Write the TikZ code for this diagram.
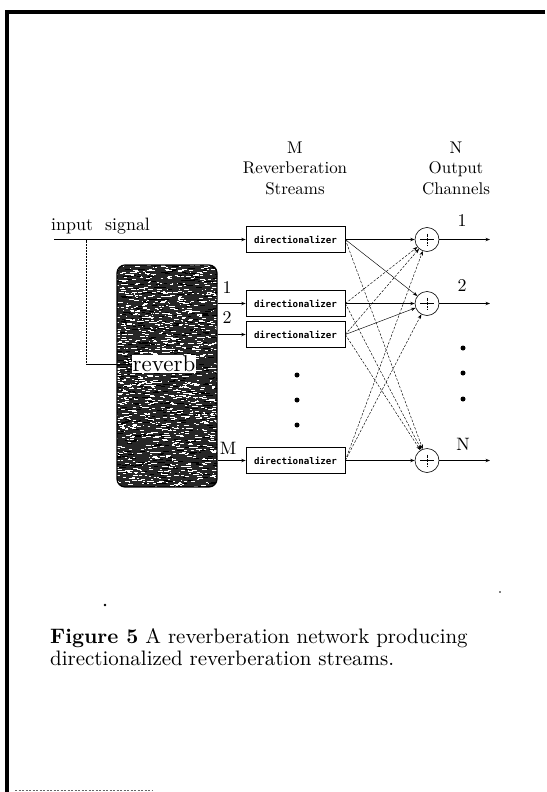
\documentclass[tikz,border=0pt]{standalone}
\usepackage{fontspec}
\setmainfont{lmroman10-regular.otf}[BoldFont=lmroman10-bold.otf]
\newfontfamily\dirfont{DejaVu Sans Mono}
\usetikzlibrary{arrows.meta}
\begin{document}
\begin{tikzpicture}[x=1bp,y=-1bp,
  >={Stealth[length=4.5bp,width=3.4bp]},
  dirbox/.style={draw, line width=0.6bp, minimum width=99bp, minimum height=26bp,
    inner sep=0pt, font={\dirfont\bfseries\fontsize{9.2}{9}\selectfont}},
  sumnode/.style={draw, circle, minimum size=24bp, inner sep=0pt, line width=0.6bp,
    path picture={\draw[line width=0.6bp]
      ([xshift=5bp]path picture bounding box.west) -- ([xshift=-5bp]path picture bounding box.east);
      \draw[line width=0.4bp, densely dotted]
      ([yshift=-6bp]path picture bounding box.north) -- ([yshift=6bp]path picture bounding box.south);}},
  hdr/.style={font={\fontsize{17}{20.5}\selectfont}, align=center, inner sep=0pt},
  lbl/.style={font={\fontsize{18}{21}\selectfont}, inner sep=0pt},
  sig/.style={->, line width=0.8bp},
  xsolid/.style={->, line width=0.45bp},
  xdash/.style={->, line width=0.45bp, dash pattern=on 2.5bp off 1.5bp},
  dotmark/.style={circle, fill, inner sep=0pt, minimum size=5bp}
]
\useasboundingbox (0,0) rectangle (547,792);

% page frame
\draw[line width=3.5bp] (545,12) -- (7,12) -- (7,792);
\draw[black!60, line width=1bp, dash pattern=on 2bp off 1.5bp] (15,790) -- (152,790);

% column headings
\node[hdr] (hdrM) at (295,168) {M\\Reverberation\\Streams};
\node[hdr] (hdrN) at (456,168) {N\\Output\\Channels};

% reverb block with a grainy fill
\begin{scope}
  \clip[rounded corners=8bp] (117,265) rectangle (217,487);
  \fill[black!85] (117,265) rectangle (217,487);
  \pgfmathsetseed{11}
  \foreach \k in {1,...,1500}{
    \pgfmathsetmacro\px{113+104*rnd}
    \pgfmathsetmacro\py{265+222*rnd}
    \pgfmathsetmacro\pl{1+4.5*rnd}
    \pgfmathsetmacro\pw{0.5+0.5*rnd}
    \draw[white, line width=\pw bp] (\px,\py) -- ++(\pl,0);
  }
  \foreach \k in {1,...,500}{
    \pgfmathsetmacro\px{113+104*rnd}
    \pgfmathsetmacro\py{265+222*rnd}
    \pgfmathsetmacro\pl{2+5*rnd}
    \draw[black, line width=0.8bp] (\px,\py) -- ++(\pl,0);
  }
\end{scope}
\node[draw, line width=1.2bp, rounded corners=8bp, minimum width=100bp, minimum height=222bp,
  inner sep=0pt] (rev) at (167,376) {};
\node[fill=white, inner sep=1bp, font={\fontsize{23}{23}\selectfont}] (revlbl) at (164,364) {reverb};

% input signal
\node[lbl, anchor=west] (insig) at (51,226) {input\ \ signal};
\coordinate (inL) at (54,239.5);
\coordinate (fbtop) at (86,239.5);
\coordinate (fbcorner) at (86,364);

% directionalizers
\node[dirbox] (d1) at (295.5,239.5) {directionalizer};
\node[dirbox] (d2) at (295.5,303.5) {directionalizer};
\node[dirbox] (d3) at (295.5,334.5) {directionalizer};
\node[dirbox] (dM) at (295.5,460.5) {directionalizer};

% summing junctions
\node[sumnode] (s1) at (427,239.5) {};
\node[sumnode] (s2) at (427,303.5) {};
\node[sumnode] (sN) at (427,460.5) {};

% output ends
\coordinate (o1) at (490,239.5);
\coordinate (o2) at (490,303.5);
\coordinate (oN) at (490,460.5);

% labels
\node[lbl] (l1) at (227,288) {1};
\node[lbl] (l2) at (227,318) {2};
\node[lbl] (lM) at (228,448) {M};
\node[lbl] (c1) at (462,221) {1};
\node[lbl] (c2) at (462,286) {2};
\node[lbl] (cN) at (463,444) {N};

% ellipsis dots
\node[dotmark] (ld1) at (297,375) {};
\node[dotmark] (ld2) at (297,400) {};
\node[dotmark] (ld3) at (297,425) {};
\node[dotmark] (rd1) at (463,348) {};
\node[dotmark] (rd2) at (463,373) {};
\node[dotmark] (rd3) at (463,399) {};

% signal paths
\draw[sig] (inL) -- (d1.west);
\draw[line width=0.5bp, densely dotted] (fbtop) -- (fbcorner);
\draw[sig] (fbcorner) -- (revlbl.west);
\draw[sig] (rev.east |- d2) -- (d2.west);
\draw[sig] (rev.east |- d3) -- (d3.west);
\draw[sig] (rev.east |- dM) -- (dM.west);

\draw[sig] (d1) -- (s1);
\draw[sig] (d2) -- (s2);
\draw[sig] (dM) -- (sN);

\draw[xsolid] (d1.east) -- (s2);
\draw[xdash]  (d1.east) -- (sN);
\draw[xdash]  (d2.east) -- (s1);
\draw[xdash]  (d2.east) -- (sN);
\draw[xdash]  (d3.east) -- (s1);
\draw[xsolid] (d3.east) -- (s2);
\draw[xdash]  (d3.east) -- (sN);
\draw[xdash]  (dM.east) -- (s1);
\draw[xdash]  (dM.east) -- (s2);

\draw[sig] (s1) -- (o1);
\draw[sig] (s2) -- (o2);
\draw[sig] (sN) -- (oN);

% caption
\node[anchor=north west, align=left, inner sep=0pt, font={\fontsize{21}{22}\selectfont}] (cap) at (50,628)
  {\textbf{Figure 5} A reverberation network producing\\directionalized reverberation streams.};
\fill (105,605) circle (1.3bp);
\fill (500,592) circle (0.8bp);
\end{tikzpicture}
\end{document}
